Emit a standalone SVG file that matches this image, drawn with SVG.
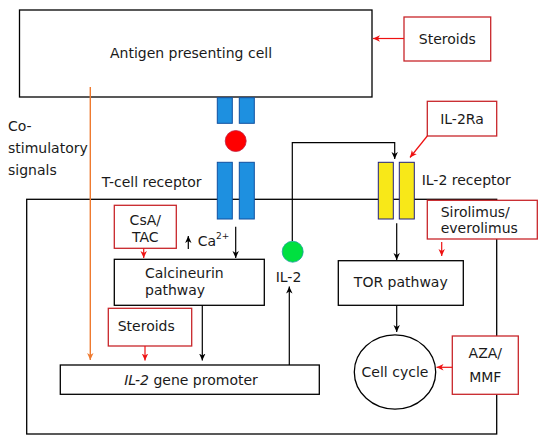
<svg xmlns="http://www.w3.org/2000/svg" width="549" height="444" viewBox="0 0 549 444">
<style>
text{font-family:"DejaVu Sans",Verdana,sans-serif;font-size:14px;fill:#1a1a1a}
.box{fill:#fff;stroke:#000;stroke-width:1.3}
.rbox{fill:#fff;stroke:#c8252a;stroke-width:1.3}
.blk{stroke:#000;stroke-width:1.2;fill:none}
.red{stroke:#ee1111;stroke-width:1.2;fill:none}
.org{stroke:#ee7a30;stroke-width:1.4;fill:none}
.tcr{fill:#1e90e0;stroke:#1050a0;stroke-width:1}
.il2r{fill:#f8e818;stroke:#202080;stroke-width:1}
</style>
<defs>
<marker id="ab" markerUnits="userSpaceOnUse" markerWidth="8" markerHeight="8" refX="7" refY="4" orient="auto"><path d="M0,0.8 L7,4 L0,7.2 L2,4 z" fill="#000"/></marker>
<marker id="ar" markerUnits="userSpaceOnUse" markerWidth="8" markerHeight="8" refX="7" refY="4" orient="auto"><path d="M0,0.8 L7,4 L0,7.2 L2,4 z" fill="#ee1111"/></marker>
<marker id="ao" markerUnits="userSpaceOnUse" markerWidth="8" markerHeight="8" refX="7" refY="4" orient="auto"><path d="M0,0.8 L7,4 L0,7.2 L2,4 z" fill="#ee7a30"/></marker>
</defs>
<g id="tcell"><rect x="26.7" y="199.3" width="470" height="234.7" class="box"/></g>
<g id="apc"><rect x="19.5" y="10" width="352.5" height="87" class="box"/><text x="191" y="58" text-anchor="middle">Antigen presenting cell</text></g>
<g id="steroids1"><rect x="404" y="17" width="86.7" height="44" class="rbox"/><text x="447.3" y="44" text-anchor="middle">Steroids</text></g>
<g id="costim"><text x="8" y="131">Co-</text><text x="8" y="153">stimulatory</text><text x="8" y="175">signals</text></g>
<g id="tcr">
<rect x="217.3" y="97.7" width="15" height="25.6" class="tcr"/>
<rect x="239.3" y="97.7" width="15" height="25.6" class="tcr"/>
<circle cx="235.7" cy="141" r="10.5" fill="#ff0000" stroke="#c02040" stroke-width="0.8"/>
<rect x="217.3" y="162.3" width="15" height="56.7" class="tcr"/>
<rect x="239.3" y="162.3" width="15" height="56.7" class="tcr"/>
<text x="101.7" y="186.5">T-cell receptor</text>
</g>
<g id="il2ra"><rect x="427.3" y="101.3" width="69.4" height="34.7" class="rbox"/><text x="462" y="124" text-anchor="middle">IL-2Ra</text></g>
<g id="il2r">
<rect x="378.3" y="162.3" width="15" height="56.7" class="il2r"/>
<rect x="399.3" y="162.3" width="15" height="56.7" class="il2r"/>
<text x="421.7" y="184.5">IL-2 receptor</text>
</g>
<g id="sirolimus"><rect x="427.3" y="200.3" width="110" height="38.7" class="rbox"/><text x="440.7" y="216.5">Sirolimus/</text><text x="440.7" y="233">everolimus</text></g>
<g id="csa"><rect x="114.3" y="205.3" width="62" height="43" class="rbox"/><text x="145.3" y="225" text-anchor="middle">CsA/</text><text x="145.3" y="241.7" text-anchor="middle">TAC</text></g>
<g id="ca"><text x="197.7" y="246">Ca<tspan dy="-7" style="font-size:9px">2+</tspan></text></g>
<g id="calcineurin"><rect x="114.3" y="259.3" width="150" height="46" class="box"/><text x="145" y="278.3">Calcineurin</text><text x="145" y="295">pathway</text></g>
<g id="il2"><circle cx="292.7" cy="251.7" r="10.5" fill="#00e040" stroke="#20a0a0" stroke-width="0.8"/><text x="288.5" y="281.7" text-anchor="middle">IL-2</text></g>
<g id="steroids2"><rect x="108.3" y="308.3" width="83.4" height="37.7" class="rbox"/><text x="117.7" y="331">Steroids</text></g>
<g id="promoter"><rect x="60.3" y="365" width="259" height="29.3" class="box"/><text x="191" y="385" text-anchor="middle"><tspan font-style="italic">IL-2</tspan> gene promoter</text></g>
<g id="tor"><rect x="338.3" y="260.7" width="125" height="44.6" class="box"/><text x="400.8" y="287.3" text-anchor="middle">TOR pathway</text></g>
<g id="cellcycle"><ellipse cx="395" cy="372" rx="40.7" ry="37.2" class="box"/><text x="395" y="377" text-anchor="middle">Cell cycle</text></g>
<g id="aza"><rect x="452.3" y="336" width="66" height="58.3" class="rbox"/><text x="485.3" y="358.3" text-anchor="middle">AZA/</text><text x="485.3" y="381.7" text-anchor="middle">MMF</text></g>
<g id="connectors">
<line x1="404" y1="38.5" x2="373" y2="38.5" class="red" marker-end="url(#ar)"/>
<line x1="90.3" y1="87" x2="90.3" y2="360" class="org" marker-end="url(#ao)"/>
<line x1="235.7" y1="226.7" x2="235.7" y2="258" class="blk" marker-end="url(#ab)"/>
<line x1="188.3" y1="249" x2="188.3" y2="236" class="blk" marker-end="url(#ab)"/>
<line x1="143.7" y1="248.3" x2="143.7" y2="258" class="red" marker-end="url(#ar)"/>
<line x1="145" y1="346" x2="145" y2="360.5" class="red" marker-end="url(#ar)"/>
<line x1="202.3" y1="305.3" x2="202.3" y2="360.5" class="blk" marker-end="url(#ab)"/>
<line x1="289.3" y1="365" x2="289.3" y2="286.5" class="blk" marker-end="url(#ab)"/>
<polyline points="292.3,241 292.3,142.7 394.7,142.7 394.7,159" class="blk" marker-end="url(#ab)"/>
<line x1="427.3" y1="136" x2="410" y2="157.5" class="red" marker-end="url(#ar)"/>
<line x1="441.7" y1="242" x2="441.7" y2="256" class="red" marker-end="url(#ar)"/>
<line x1="396.7" y1="223.3" x2="396.7" y2="260" class="blk" marker-end="url(#ab)"/>
<line x1="396.7" y1="305.3" x2="396.7" y2="332" class="blk" marker-end="url(#ab)"/>
<line x1="452.3" y1="367.3" x2="436.5" y2="367.3" class="red" marker-end="url(#ar)"/>
</g>
</svg>
